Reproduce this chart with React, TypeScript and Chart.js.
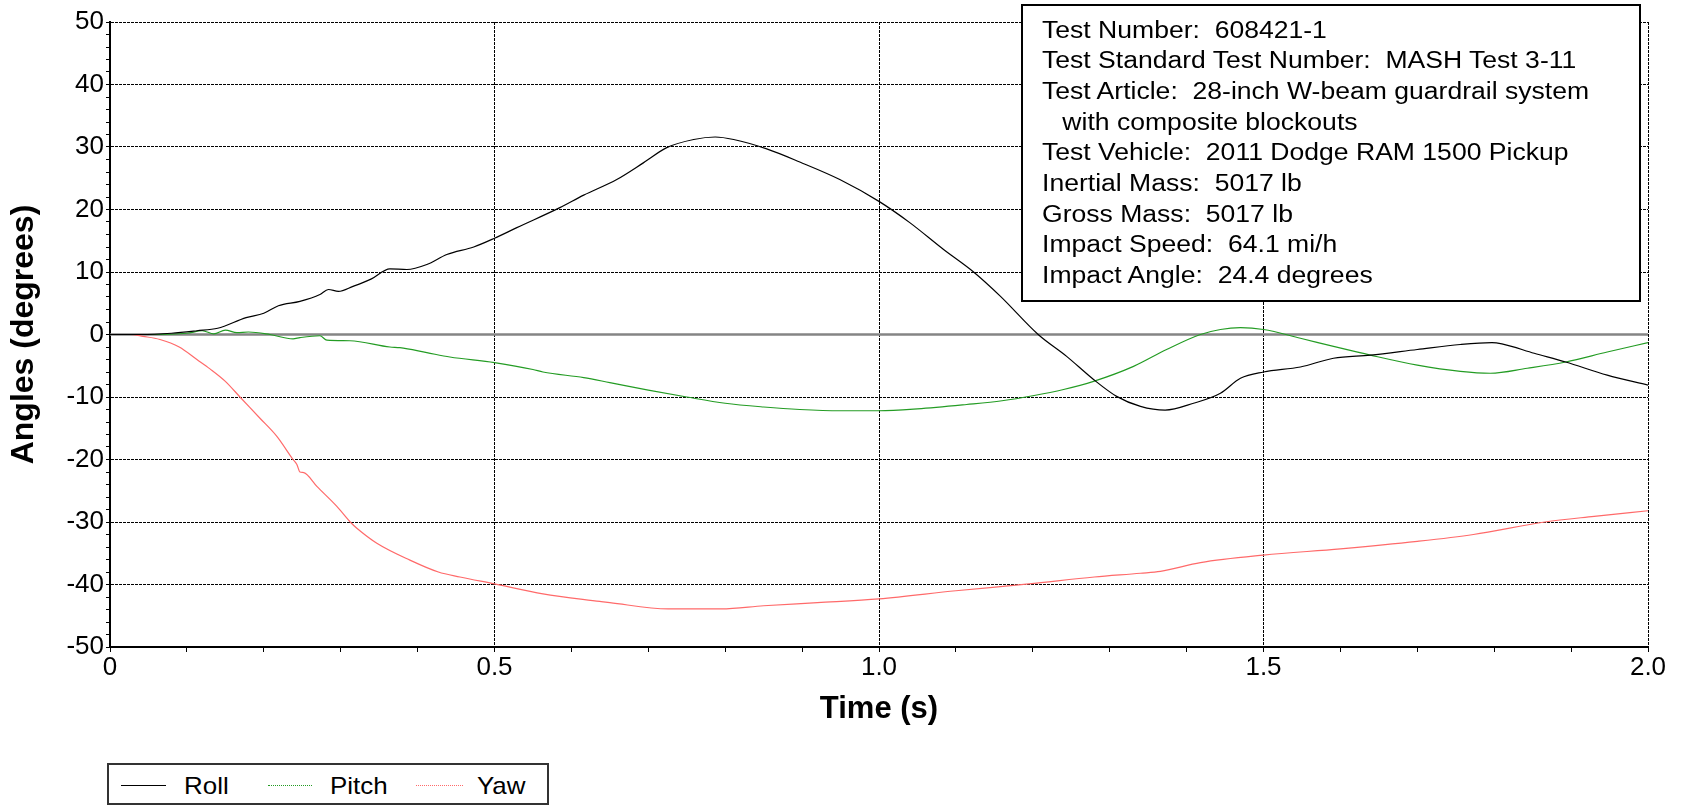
import React, { useEffect, useRef } from "react";
import { Chart, registerables } from "chart.js";

Chart.register(...registerables);

// ---- data (time in s, angle in degrees) ----
const rollT = [0, 0.04, 0.08, 0.113, 0.14, 0.177, 0.2, 0.219, 0.247, 0.273, 0.284, 0.297, 0.316, 0.34, 0.364, 0.386, 0.412, 0.438, 0.473, 0.5, 0.529, 0.585, 0.616, 0.659, 0.694, 0.724, 0.759, 0.787, 0.811, 0.854, 0.897, 0.949, 1.0, 1.04, 1.084, 1.123, 1.158, 1.207, 1.244, 1.279, 1.309, 1.34, 1.372, 1.409, 1.444, 1.47, 1.5, 1.548, 1.591, 1.639, 1.7, 1.756, 1.797, 1.81, 1.852, 1.893, 1.947, 2.0];
const rollV = [0, 0, 0.2, 0.6, 1.0, 2.7, 3.4, 4.6, 5.3, 6.4, 7.2, 6.9, 7.7, 8.9, 10.5, 10.4, 11.2, 12.8, 14.0, 15.4, 17.1, 20.3, 22.3, 24.8, 27.5, 29.9, 31.2, 31.6, 31.2, 29.7, 27.6, 24.8, 21.3, 17.9, 13.6, 10.0, 6.1, 0, -3.5, -7.2, -9.9, -11.5, -12.1, -11.0, -9.4, -7.0, -6.0, -5.2, -3.8, -3.3, -2.4, -1.6, -1.3, -1.5, -3.0, -4.4, -6.5, -8.1];

const pitchT = [0, 0.05, 0.1, 0.12, 0.135, 0.15, 0.165, 0.18, 0.208, 0.238, 0.247, 0.273, 0.282, 0.312, 0.364, 0.377, 0.412, 0.442, 0.5, 0.55, 0.563, 0.616, 0.65, 0.7, 0.75, 0.8, 0.85, 0.897, 0.95, 1.0, 1.05, 1.114, 1.16, 1.2, 1.24, 1.279, 1.331, 1.374, 1.418, 1.444, 1.47, 1.5, 1.548, 1.591, 1.639, 1.7, 1.756, 1.795, 1.843, 1.893, 1.947, 2.0];
const pitchV = [0, 0, 0.2, 0.6, 0.1, 0.7, 0.3, 0.4, 0, -0.7, -0.5, -0.2, -0.9, -1.0, -2.0, -2.1, -2.9, -3.6, -4.5, -5.6, -6.0, -6.9, -7.7, -8.9, -10.0, -11.0, -11.6, -12.0, -12.2, -12.2, -11.9, -11.2, -10.6, -9.8, -8.8, -7.5, -5.1, -2.4, 0, 0.8, 1.1, 0.8, -0.6, -1.9, -3.3, -4.9, -5.9, -6.2, -5.4, -4.4, -2.8, -1.3];

const yawT = [0, 0.026, 0.043, 0.065, 0.09, 0.113, 0.13, 0.15, 0.169, 0.195, 0.217, 0.238, 0.243, 0.247, 0.252, 0.269, 0.295, 0.314, 0.321, 0.347, 0.39, 0.427, 0.455, 0.5, 0.563, 0.637, 0.65, 0.726, 0.795, 0.85, 0.92, 1.0, 1.1, 1.195, 1.28, 1.34, 1.366, 1.418, 1.5, 1.6, 1.7, 1.773, 1.866, 1.93, 2.0];
const yawV = [0, 0, -0.3, -0.8, -2.0, -4.0, -5.5, -7.5, -10.0, -13.4, -16.3, -20.0, -20.8, -22.0, -22.1, -24.3, -27.5, -30.2, -31.0, -33.4, -36.1, -38.0, -38.8, -39.9, -41.5, -42.7, -42.9, -43.9, -43.9, -43.4, -42.9, -42.3, -41.0, -39.9, -38.8, -38.2, -37.9, -36.5, -35.3, -34.3, -33.1, -32.0, -30.0, -29.1, -28.2];

const seriesNames = ["Roll", "Pitch", "Yaw"];
const seriesColors = ["#000000", "#249c24", "#ff6a6a"];
const xTickLabels = ["0", "0.5", "1.0", "1.5", "2.0"];
const xTitle = "Time (s)";
const yTitle = "Angles (degrees)";
const infoLines = [
  "Test Number:  608421-1",
  "Test Standard Test Number:  MASH Test 3-11",
  "Test Article:  28-inch W-beam guardrail system",
  "with composite blockouts",
  "Test Vehicle:  2011 Dodge RAM 1500 Pickup",
  "Inertial Mass:  5017 lb",
  "Gross Mass:  5017 lb",
  "Impact Speed:  64.1 mi/h",
  "Impact Angle:  24.4 degrees",
];

const FONT = "'Liberation Sans', Arial, Helvetica, sans-serif";

function pts(t: number[], v: number[]) {
  return t.map((x, i) => ({ x, y: v[i] }));
}

export default function App() {
  const ref = useRef<HTMLCanvasElement | null>(null);

  useEffect(() => {
    if (!ref.current) return;
    const zeroLine = {
      id: "zeroLine",
      beforeDatasetsDraw(chart: any) {
        const { ctx, chartArea, scales } = chart;
        const y = scales.y.getPixelForValue(0);
        ctx.save();
        ctx.strokeStyle = "#858585";
        ctx.lineWidth = 2.5;
        ctx.beginPath();
        ctx.moveTo(chartArea.left, y);
        ctx.lineTo(chartArea.right, y);
        ctx.stroke();
        ctx.restore();
      },
    };

    const isMult = (v: number, m: number) => Math.abs(v / m - Math.round(v / m)) < 1e-6;

    const chart = new Chart(ref.current, {
      type: "line",
      data: {
        datasets: [
          { label: seriesNames[0], data: pts(rollT, rollV), borderColor: seriesColors[0], borderWidth: 1.2 },
          { label: seriesNames[1], data: pts(pitchT, pitchV), borderColor: seriesColors[1], borderWidth: 1.2 },
          { label: seriesNames[2], data: pts(yawT, yawV), borderColor: seriesColors[2], borderWidth: 1.2 },
        ].map((d) => ({ ...d, pointRadius: 0, fill: false, cubicInterpolationMode: "monotone" as const })),
      },
      plugins: [zeroLine],
      options: {
        animation: false,
        responsive: false,
        devicePixelRatio: 1,
        layout: { padding: { left: 0, top: 22, right: 34, bottom: 59 } },
        plugins: { legend: { display: false }, tooltip: { enabled: false } },
        scales: {
          x: {
            type: "linear",
            min: 0,
            max: 2,
            afterFit: (s: any) => {
              s.height = 100;
            },
            ticks: {
              stepSize: 0.1,
              autoSkip: false,
              maxRotation: 0,
              padding: 0,
              color: "#000",
              font: { size: 26, family: FONT },
              callback: (v: any) => {
                const n = Number(v);
                return isMult(n, 0.5) ? xTickLabels[Math.round(n / 0.5)] : "";
              },
            },
            grid: {
              color: (c: any) => {
                const v = c.tick ? c.tick.value : 0;
                return isMult(v, 0.5) && v > 0.01 ? "#000" : "rgba(0,0,0,0)";
              },
              tickColor: "#000",
              tickLength: 5,
              lineWidth: 1,
              tickWidth: 1,
            },
            border: { display: true, color: "#000", width: 2, dash: [3, 1] },
            title: {
              display: true,
              text: xTitle,
              color: "#000",
              font: { size: 31, weight: "bold", family: FONT },
              padding: { top: 0, bottom: 19 },
            },
          },
          y: {
            type: "linear",
            min: -50,
            max: 50,
            afterFit: (s: any) => {
              s.width = 110;
            },
            ticks: {
              stepSize: 2,
              autoSkip: false,
              padding: 2,
              color: "#000",
              font: { size: 26, family: FONT },
              callback: (v: any) => {
                const n = Number(v);
                return isMult(n, 10) ? String(Math.round(n)) : "";
              },
            },
            grid: {
              color: (c: any) => {
                const v = c.tick ? c.tick.value : 0;
                return isMult(v, 10) && v !== 0 && v > -49 ? "#000" : "rgba(0,0,0,0)";
              },
              tickColor: "#000",
              tickLength: 4,
              lineWidth: 1,
              tickWidth: 1,
            },
            border: { display: true, color: "#000", width: 2, dash: [3, 1] },
            title: {
              display: true,
              text: yTitle,
              color: "#000",
              font: { size: 32, weight: "bold", family: FONT },
              padding: { top: 5, bottom: 0 },
            },
          },
        },
      },
    } as any);
    return () => chart.destroy();
  }, []);

  const legendItems = [
    { sx: 121, sw: 45, tx: 184, dash: "solid" },
    { sx: 268, sw: 44, tx: 330, dash: "dotted" },
    { sx: 416, sw: 47, tx: 477, dash: "dotted" },
  ];

  return (
    <div style={{ position: "absolute", left: 0, top: 0, width: 1682, height: 806, background: "#fff", overflow: "hidden" }}>
      <canvas ref={ref} width={1682} height={806} style={{ position: "absolute", left: 0, top: 0, width: 1682, height: 806 }} />
      <div
        style={{
          position: "absolute",
          left: 1021,
          top: 4,
          width: 620,
          height: 298,
          boxSizing: "border-box",
          border: "2px solid #000",
          background: "#fff",
          padding: "8.5px 0 0 19px",
          fontFamily: FONT,
          fontSize: 23.5,
          lineHeight: "30.7px",
          color: "#000",
          whiteSpace: "pre",
        }}
      >
        <div style={{ transform: "scaleX(1.13)", transformOrigin: "left top" }}>
          {infoLines.map((l, i) => (
            <div key={i} style={{ paddingLeft: i === 3 ? 18 : 0 }}>
              {l}
            </div>
          ))}
        </div>
      </div>
      <div
        style={{
          position: "absolute",
          left: 107,
          top: 763,
          width: 442,
          height: 42,
          boxSizing: "border-box",
          border: "2px solid #333",
          background: "#fff",
        }}
      />
      {legendItems.map((it, i) => (
        <React.Fragment key={i}>
          <div
            style={{
              position: "absolute",
              left: it.sx,
              top: 785,
              width: it.sw,
              height: 0,
              borderTop: `${i === 0 ? 1.3 : 1.5}px ${it.dash} ${seriesColors[i]}`,
            }}
          />
          <div
            style={{
              position: "absolute",
              left: it.tx,
              top: 772,
              fontFamily: FONT,
              fontSize: 24,
              lineHeight: "28px",
              color: "#000",
              whiteSpace: "pre",
              transform: "scaleX(1.08)",
              transformOrigin: "left center",
            }}
          >
            {seriesNames[i]}
          </div>
        </React.Fragment>
      ))}
    </div>
  );
}
